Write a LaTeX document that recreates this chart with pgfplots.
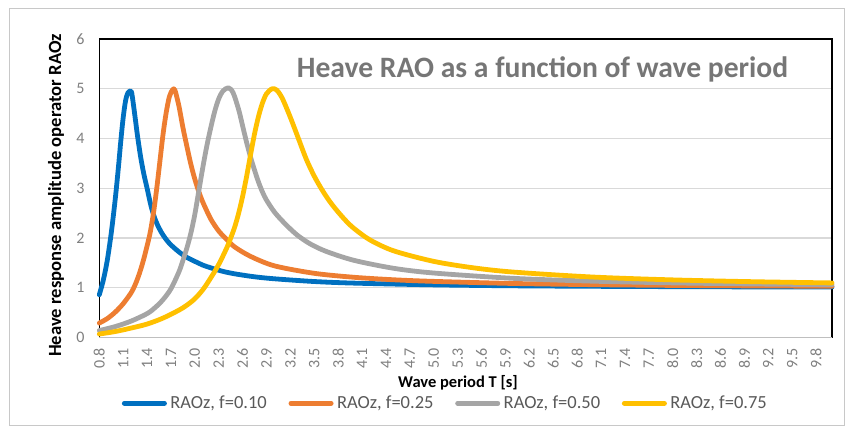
\documentclass[border=0pt]{standalone}
\usepackage{pgfplots}
\usepackage{pgfplotstable}
\pgfplotsset{compat=1.18}
\usepackage{fontspec}
\setmainfont{Carlito}
\definecolor{cblue}{RGB}{0,112,192}
\definecolor{corange}{RGB}{237,125,49}
\definecolor{cgray}{RGB}{165,165,165}
\definecolor{cyellow}{RGB}{255,192,0}
\definecolor{gridgray}{RGB}{217,217,217}
\definecolor{bordergray}{RGB}{200,200,200}
\definecolor{axisgray}{RGB}{191,191,191}
\definecolor{tickgray}{RGB}{127,127,127}
\definecolor{legendgray}{RGB}{89,89,89}
\definecolor{titlegray}{RGB}{118,118,118}

\pgfplotstableread{
T v
0.80 0.86
0.85 1.15
0.90 1.55
0.95 2.10
1.00 2.78
1.04 3.42
1.07 3.95
1.10 4.42
1.13 4.76
1.16 4.92
1.20 4.95
1.22 4.78
1.25 4.42
1.28 4.05
1.32 3.62
1.36 3.28
1.40 3.00
1.45 2.64
1.50 2.38
1.55 2.20
1.60 2.06
1.65 1.95
1.70 1.86
1.80 1.72
1.90 1.61
2.00 1.53
2.10 1.455
2.20 1.40
2.35 1.33
2.50 1.28
2.75 1.22
3.00 1.18
3.50 1.125
4.00 1.093
5.00 1.058
6.00 1.039
7.00 1.029
8.00 1.022
9.00 1.017
10.00 1.014
}\tblue

\pgfplotstableread{
T v
0.80 0.29
0.90 0.38
1.00 0.51
1.10 0.68
1.20 0.90
1.25 1.06
1.30 1.27
1.35 1.53
1.40 1.84
1.44 2.12
1.48 2.50
1.52 2.98
1.56 3.53
1.60 4.08
1.64 4.52
1.68 4.84
1.72 4.98
1.75 4.97
1.80 4.65
1.85 4.22
1.90 3.84
1.95 3.48
2.00 3.18
2.05 2.93
2.10 2.72
2.20 2.38
2.30 2.14
2.40 1.97
2.50 1.82
2.70 1.63
3.00 1.44
3.50 1.29
4.00 1.21
4.50 1.16
5.00 1.128
6.00 1.086
7.00 1.062
8.00 1.047
9.00 1.037
10.00 1.030
}\torange

\pgfplotstableread{
T v
0.80 0.14
1.00 0.22
1.20 0.33
1.40 0.48
1.50 0.60
1.60 0.76
1.70 0.98
1.80 1.32
1.85 1.55
1.90 1.80
1.95 2.10
2.00 2.48
2.05 2.95
2.10 3.42
2.15 3.85
2.20 4.22
2.25 4.55
2.30 4.80
2.35 4.95
2.42 5.02
2.48 4.92
2.55 4.58
2.60 4.25
2.65 3.92
2.70 3.62
2.75 3.36
2.80 3.12
2.85 2.92
2.90 2.76
3.00 2.52
3.10 2.34
3.20 2.18
3.30 2.04
3.45 1.88
3.65 1.73
4.00 1.55
4.50 1.39
5.00 1.296
6.00 1.189
7.00 1.132
8.00 1.098
9.00 1.076
10.00 1.061
}\tgray

\pgfplotstableread{
T v
0.80 0.07
1.00 0.12
1.20 0.19
1.40 0.27
1.60 0.39
1.80 0.55
1.90 0.65
2.00 0.78
2.10 0.96
2.20 1.20
2.30 1.47
2.40 1.80
2.45 2.00
2.50 2.22
2.55 2.50
2.60 2.84
2.65 3.24
2.70 3.68
2.75 4.10
2.80 4.45
2.85 4.72
2.90 4.90
2.97 5.00
3.03 4.97
3.10 4.80
3.20 4.42
3.30 4.00
3.40 3.58
3.50 3.24
3.60 2.96
3.70 2.72
3.80 2.52
3.90 2.34
4.00 2.19
4.20 1.96
4.50 1.74
5.00 1.53
5.50 1.40
6.00 1.315
7.00 1.215
8.00 1.158
9.00 1.122
10.00 1.097
}\tyellow

\begin{document}
\begin{tikzpicture}
\begin{axis}[
  name=ax,
  scale only axis, width=732.7pt, height=298.5pt,
  xmin=0.8, xmax=10, ymin=0, ymax=6,
  clip=false,
  ytick={0,1,2,3,4,5,6},
  yticklabels={0,1,2,3,4,5,6},
  xtick={0.8,1.1,1.4,1.7,2.0,2.3,2.6,2.9,3.2,3.5,3.8,4.1,4.4,4.7,5.0,5.3,5.6,5.9,6.2,6.5,6.8,7.1,7.4,7.7,8.0,8.3,8.6,8.9,9.2,9.5,9.8},
  xticklabels={0.8,1.1,1.4,1.7,2.0,2.3,2.6,2.9,3.2,3.5,3.8,4.1,4.4,4.7,5.0,5.3,5.6,5.9,6.2,6.5,6.8,7.1,7.4,7.7,8.0,8.3,8.6,8.9,9.2,9.5,9.8},
  major tick length=0pt,
  ymajorgrids,
  grid style={color=gridgray, line width=1.2pt},
  axis line style={black, line width=1.2pt},
  yticklabel style={inner sep=0pt, xshift=-14.5pt, text=tickgray, font=\fontsize{16}{16}\selectfont},
  xticklabel style={yshift=-11pt, rotate=90, anchor=east, inner sep=0pt, text=tickgray, font=\fontsize{16}{16}\selectfont},
  legend columns=4,
  legend style={at={(0.03057,-0.2204)}, anchor=west, draw=none, fill=none,
    inner sep=0pt, column sep=3.5pt,
    /tikz/every even column/.append style={column sep=21.7pt},
    nodes={inner sep=0pt, text=legendgray, font=\fontsize{18.5}{18.5}\selectfont}},
  legend image code/.code={\draw[#1, line width=4.8pt, line cap=round] (0pt,0pt) -- (40.2pt,0pt);},
  every axis plot/.append style={line width=4.8pt, line cap=round, line join=round, smooth, tension=0.5},
]
\coordinate (P) at (rel axis cs:0,0);
\draw[axisgray, line width=1.2pt] (rel axis cs:0,0) -- (rel axis cs:1,0);
\addplot[cblue] table[x=T, y=v] {\tblue};
\addlegendentry{RAOz, f=0.10}
\addplot[corange] table[x=T, y=v] {\torange};
\addlegendentry{RAOz, f=0.25}
\addplot[cgray] table[x=T, y=v] {\tgray};
\addlegendentry{RAOz, f=0.50}
\addplot[cyellow] table[x=T, y=v] {\tyellow};
\addlegendentry{RAOz, f=0.75}
\end{axis}
\begin{scope}[shift={(P)}, x=1pt, y=1pt, shift={(-99.3,-96.5)}]
\path (0,0) rectangle (854,434);
\draw[bordergray, line width=1pt] (10,9) rectangle (844,425);
\node[anchor=base west, inner sep=0pt, text=titlegray, font=\fontsize{29.6}{29.6}\selectfont\bfseries] at (296.7,356) {Heave RAO as a function of wave period};
\node[rotate=90, inner sep=0pt, font=\fontsize{18.6}{18.6}\selectfont\bfseries] at (56,238.5) {Heave response amplitude operator RAOz};
\node[anchor=base, inner sep=0pt, font=\fontsize{16.5}{16.5}\selectfont\bfseries] at (458,46.3) {Wave period T [s]};
\end{scope}
\end{tikzpicture}
\end{document}
